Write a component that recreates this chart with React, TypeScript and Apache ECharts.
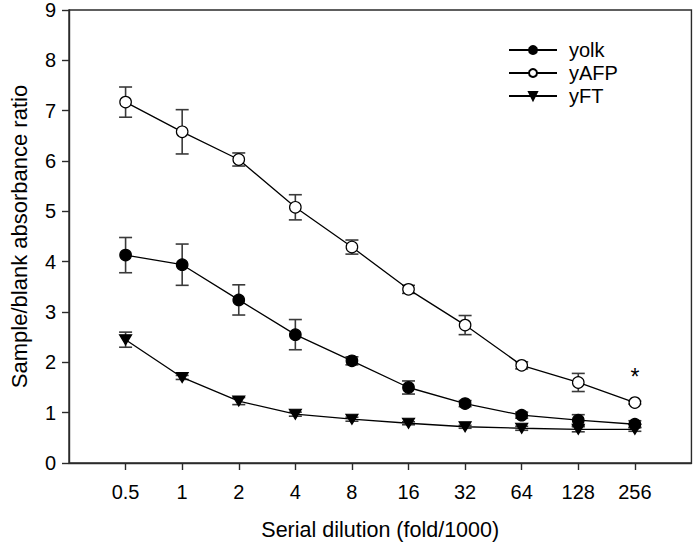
import React, { useEffect, useRef } from "react";
import * as echarts from "echarts";

const dilutions = ["0.5", "1", "2", "4", "8", "16", "32", "64", "128", "256"];
const yolkMean = [4.13, 3.94, 3.24, 2.55, 2.03, 1.5, 1.18, 0.95, 0.85, 0.77];
const yolkErr = [0.35, 0.41, 0.3, 0.3, 0.08, 0.13, 0.06, 0.06, 0.11, 0.07];
const yafpMean = [7.17, 6.58, 6.03, 5.08, 4.29, 3.45, 2.74, 1.94, 1.6, 1.2];
const yafpErr = [0.3, 0.44, 0.13, 0.25, 0.14, 0.08, 0.19, 0.07, 0.18, 0.03];
const yftMean = [2.45, 1.7, 1.23, 0.97, 0.87, 0.79, 0.72, 0.69, 0.67, 0.67];
const yftErr = [0.15, 0.04, 0.07, 0.04, 0.04, 0.03, 0.03, 0.04, 0.05, 0.04];
const yTicks = [0, 1, 2, 3, 4, 5, 6, 7, 8, 9];
const significanceMarkIndex = 9;

const FONT = "Liberation Sans, Arial, sans-serif";
const downTriangle = "path://M0,0 L12,0 L6,10 Z";

export default function App() {
  const ref = useRef<HTMLDivElement>(null);
  useEffect(() => {
    if (!ref.current) return;
    const chart = echarts.init(ref.current, undefined, { renderer: "svg" });
    const cats = [" ", ...dilutions, "  "];

    const errData = (mean: number[], err: number[]) =>
      mean.map((m, i) => [dilutions[i], m - err[i], m + err[i]]);

    const errSeries = (name: string, mean: number[], err: number[]) => ({
      type: "custom",
      name: name + "-err",
      z: 1,
      silent: true,
      data: errData(mean, err),
      encode: { x: 0, y: [1, 2] },
      renderItem: (params: any, api: any) => {
        const x = api.value(0);
        const top = api.coord([x, api.value(2)]);
        const bot = api.coord([x, api.value(1)]);
        const w = 6.5;
        const style = { stroke: "#3a3a3a", lineWidth: 1.6 };
        return {
          type: "group",
          children: [
            { type: "line", shape: { x1: top[0], y1: top[1], x2: bot[0], y2: bot[1] }, style },
            { type: "line", shape: { x1: top[0] - w, y1: top[1], x2: top[0] + w, y2: top[1] }, style },
            { type: "line", shape: { x1: bot[0] - w, y1: bot[1], x2: bot[0] + w, y2: bot[1] }, style },
          ],
        };
      },
    });

    const lineSeries = (name: string, mean: number[], symbol: string, symbolSize: any, fill: string, extra?: (i: number) => any) => ({
      type: "line",
      name,
      z: 3,
      symbol,
      symbolSize,
      showAllSymbol: true,
      lineStyle: { color: "#000", width: 1.3 },
      itemStyle: { color: fill, borderColor: "#000", borderWidth: 1.2 },
      emphasis: { disabled: true },
      data: mean.map((m, i) => {
        const base: any = { value: [dilutions[i], m] };
        return extra ? { ...base, ...extra(i) } : base;
      }),
    });

    chart.setOption({
      animation: false,
      backgroundColor: "#fff",
      textStyle: { fontFamily: FONT },
      grid: {
        left: 66,
        right: 2,
        top: 9.5,
        bottom: 82.5,
        show: true,
        borderColor: "#2a2a2a",
        borderWidth: 1.4,
        containLabel: false,
      },
      legend: {
        orient: "vertical",
        left: 508,
        top: 40,
        padding: 0,
        itemWidth: 48,
        itemHeight: 10,
        itemGap: 3,
        data: ["yolk", "yAFP", "yFT"],
        textStyle: { fontFamily: FONT, fontSize: 20, lineHeight: 20, color: "#000", padding: [0, 0, 0, 7] },
        selectedMode: false,
      },
      xAxis: {
        type: "category",
        data: cats,
        boundaryGap: false,
        name: "Serial dilution (fold/1000)",
        nameLocation: "middle",
        nameGap: 56,
        nameTextStyle: { fontFamily: FONT, fontSize: 21.5, color: "#000" },
        axisLine: { lineStyle: { color: "#2a2a2a", width: 1.4 } },
        axisTick: {
          inside: false,
          length: 7,
          alignWithLabel: true,
          interval: (idx: number) => idx > 0 && idx < cats.length - 1,
          lineStyle: { color: "#2a2a2a", width: 1.4 },
        },
        axisLabel: { interval: 0, margin: 19, fontSize: 20, color: "#000", fontFamily: FONT },
        splitLine: { show: false },
      },
      yAxis: {
        type: "value",
        min: yTicks[0],
        max: yTicks[yTicks.length - 1],
        interval: 1,
        name: "Sample/blank absorbance ratio",
        nameLocation: "middle",
        nameGap: 39,
        nameTextStyle: { fontFamily: FONT, fontSize: 22, color: "#000" },
        axisLine: { show: true, lineStyle: { color: "#2a2a2a", width: 1.4 } },
        axisTick: { show: true, inside: false, length: 7, lineStyle: { color: "#2a2a2a", width: 1.4 } },
        axisLabel: { margin: 13, fontSize: 20, color: "#000", fontFamily: FONT },
        splitLine: { show: false },
      },
      series: [
        errSeries("yolk", yolkMean, yolkErr),
        errSeries("yAFP", yafpMean, yafpErr),
        errSeries("yFT", yftMean, yftErr),
        lineSeries("yolk", yolkMean, "circle", 11.5, "#000"),
        lineSeries("yAFP", yafpMean, "circle", 11.5, "#fff", (i) =>
          i === significanceMarkIndex
            ? {
                label: {
                  show: true,
                  formatter: "*",
                  position: "top",
                  distance: 8,
                  fontSize: 23,
                  color: "#000",
                  fontFamily: FONT,
                },
              }
            : {}
        ),
        lineSeries("yFT", yftMean, downTriangle, [12, 10], "#000"),
      ],
    });
    return () => chart.dispose();
  }, []);
  return (
    <div
      ref={ref}
      style={{ position: "fixed", left: 0, top: 0, width: 700, height: 546, background: "#fff" }}
    />
  );
}
